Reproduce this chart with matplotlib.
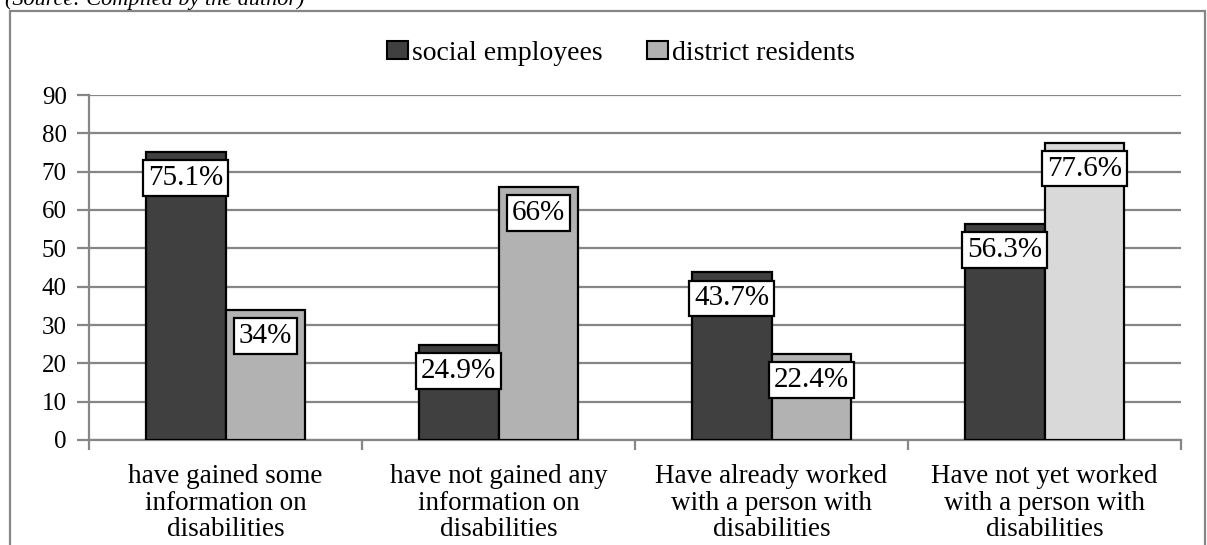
import numpy as np
import matplotlib.pyplot as plt
from matplotlib.patches import Rectangle, Patch

# Dane
kategorie = ['have gained some\ninformation on\ndisabilities',
             'have not gained any\ninformation on\ndisabilities',
             'Have already worked\nwith a person with\ndisabilities',
             'Have not yet worked\nwith a person with\ndisabilities']
pracownicy = [75.1, 24.9, 43.7, 56.3]
mieszkancy = [34, 66, 22.4, 77.6]
etykiety_prac = ['75.1%', '24.9%', '43.7%', '56.3%']
etykiety_miesz = ['34%', '66%', '22.4%', '77.6%']
serie = ['social employees', 'district residents']

plt.rcParams['font.family'] = ['Liberation Serif', 'DejaVu Serif']

ciemny = '#404040'
jasne = ['#b2b2b2', '#b2b2b2', '#b2b2b2', '#d9d9d9']
szary = '#868686'

fig = plt.figure(figsize=(12.07, 5.45), dpi=100)
ax = fig.add_axes([89 / 1207, 105 / 545, (1181 - 89) / 1207, (440 - 95) / 545])

x = np.arange(len(kategorie))
w = 0.293
b1 = ax.bar(x - w / 2, pracownicy, w, color=ciemny, edgecolor='black', linewidth=1.6, zorder=3)
b2 = ax.bar(x + w / 2, mieszkancy, w, color=jasne, edgecolor='black', linewidth=1.6, zorder=3)

# Etykiety danych
for slupki, etyk in ((b1, etykiety_prac), (b2, etykiety_miesz)):
    for s, t in zip(slupki, etyk):
        ax.annotate(t, xy=(s.get_x() + s.get_width() / 2, s.get_height()),
                    xytext=(0, -26), textcoords='offset pixels',
                    ha='center', va='center', fontsize=21, zorder=5,
                    bbox=dict(boxstyle='square,pad=0.17', fc='white', ec='black', lw=1.6))

# Osie
ax.set_xlim(-0.5, 3.5)
ax.set_ylim(0, 90)
ax.set_yticks(range(0, 91, 10))
ax.yaxis.grid(True, color=szary, linewidth=1.6, zorder=0)
ax.set_axisbelow(True)
ax.set_xticks(np.arange(-0.5, 4, 1))
ax.set_xticklabels([])
ax.set_xticks(x, minor=True)
ax.set_xticklabels(kategorie, minor=True, fontsize=19.5)
for t in ax.get_xticklabels(minor=True):
    t.set_linespacing(1.1)
ax.tick_params(axis='x', which='minor', length=0, pad=17)
ax.tick_params(axis='x', which='major', length=7, width=1.6, color=szary)
ax.tick_params(axis='y', length=9, width=1.6, color=szary, labelsize=18, pad=7)
for s in ['top', 'right']:
    ax.spines[s].set_visible(False)
for s in ['left', 'bottom']:
    ax.spines[s].set_color(szary)
    ax.spines[s].set_linewidth(1.6)

# Legenda
uchwyty = [Patch(fc=ciemny, ec='black', lw=1.5), Patch(fc='#b2b2b2', ec='black', lw=1.5)]
fig.legend(uchwyty, serie, loc='center', bbox_to_anchor=(621 / 1207, 1 - 53 / 545),
           ncol=2, frameon=False, fontsize=20, handlelength=0.75, handleheight=0.6,
           handletextpad=0.15, columnspacing=1.6)

# Ramka i źródło
fig.patches.append(Rectangle((10 / 1207, -0.2), (1205 - 10) / 1207, 1.2 - 11 / 545,
                             transform=fig.transFigure, fill=False, ec=szary, lw=1.6))
fig.text(5 / 1207, 1 - 5 / 545, '(Source: Compiled by the author)', fontsize=16,
         style='italic', ha='left', va='baseline')

fig.savefig('out.png', dpi=100)
